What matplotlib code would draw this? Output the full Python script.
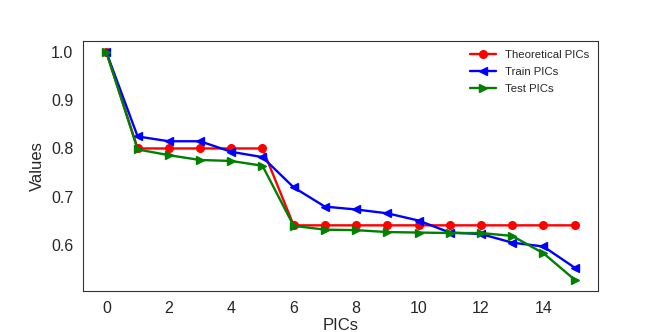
import numpy as np
import matplotlib.pyplot as plt
import seaborn as sns

sns.set_style('white')
plt.rcParams['font.family'] = ['Liberation Sans', 'DejaVu Sans']

pics = np.arange(16)
theoretical = [1.0, 0.8, 0.8, 0.8, 0.8, 0.8, 0.64, 0.64, 0.64, 0.64, 0.64,
               0.64, 0.64, 0.64, 0.64, 0.64]
train = [1.0, 0.825, 0.815, 0.815, 0.793, 0.782, 0.719, 0.679, 0.673, 0.665,
         0.650, 0.625, 0.622, 0.604, 0.596, 0.552]
test = [1.0, 0.798, 0.786, 0.776, 0.774, 0.764, 0.639, 0.631, 0.630, 0.626,
        0.625, 0.624, 0.624, 0.618, 0.582, 0.527]

fig = plt.figure(figsize=(6.64, 3.32), dpi=100)
ax = fig.add_axes([83 / 664, 1 - 291 / 332, 515 / 664, 250 / 332])

ax.plot(pics, theoretical, 'r-', marker='o', lw=1.7, markersize=5.5, label='Theoretical PICs')
ax.plot(pics, train, 'b-', marker='<', lw=1.7, markersize=5.5, label='Train PICs')
ax.plot(pics, test, 'g-', marker='>', lw=1.7, markersize=5.5, label='Test PICs')

ax.set_xticks([0, 2, 4, 6, 8, 10, 12, 14])
ax.set_yticks([0.6, 0.7, 0.8, 0.9, 1.0])
ax.tick_params(labelsize=11.5)
for s in ax.spines.values():
    s.set_color('0.2')
ax.set_xlabel('PICs', fontsize=12, labelpad=2)
ax.set_ylabel('Values', fontsize=12)
ax.legend(loc='upper right', fontsize=8.2, frameon=False, handlelength=2.2,
          labelspacing=0.62, borderaxespad=0.4)

plt.savefig('out.png', dpi=100)
